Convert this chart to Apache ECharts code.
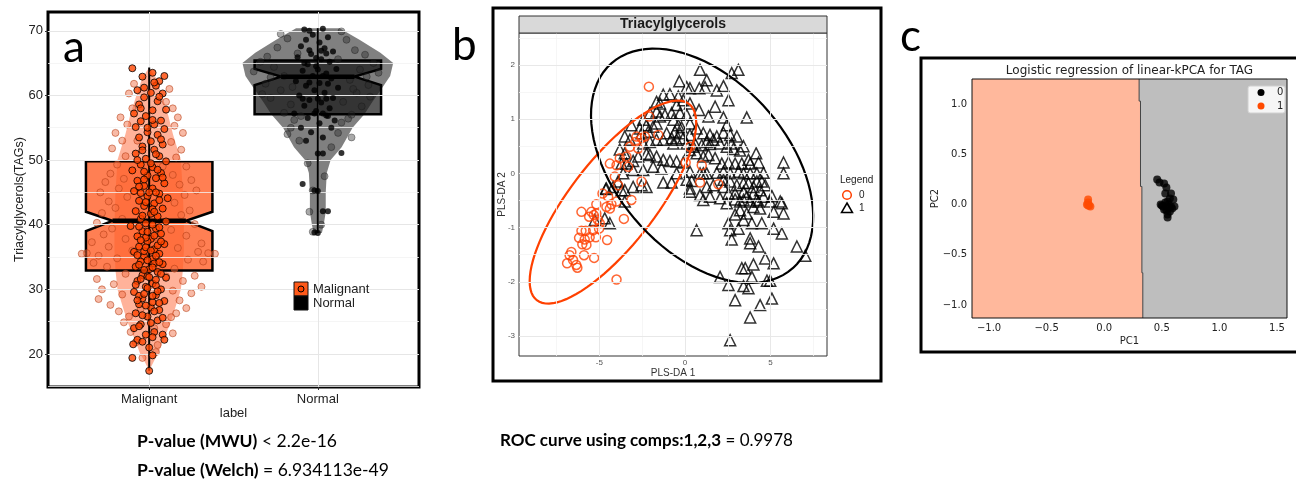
<!DOCTYPE html>
<html>
<head>
<meta charset="utf-8">
<script src="https://cdn.jsdelivr.net/npm/echarts@6/dist/echarts.min.js"></script>
<style>
html, body { margin: 0; padding: 0; background: #fff; }
#chart { width: 1296px; height: 485px; }
</style>
</head>
<body>
<div id="chart"></div>
<script>
// ---- panel a : violin + notched box + jitter ----
var boxCats = ['Malignant', 'Normal'];
// [x, min, q1, notchLow, median, notchHigh, q3, max]
var boxStats = [
  [1, 17.4, 32.9, 39.0, 40.6, 42.0, 49.8, 64.3],
  [2, 38.7, 57.1, 61.6, 62.9, 64.1, 65.4, 70.4]
];
// [y, half width in x units]
var violinMalignant = [[17.4, 0], [19, 0.03], [20, 0.053], [22, 0.082], [25, 0.129], [28, 0.165], [30, 0.188],
  [33, 0.2], [36, 0.206], [40, 0.206], [45, 0.2], [50, 0.188], [54, 0.141], [57, 0.112], [60, 0.076],
  [62.7, 0.041], [64.3, 0]];
var violinNormal = [[38.7, 0.024], [40, 0.035], [42, 0.047], [45, 0.047], [48, 0.053], [50, 0.076], [52, 0.141],
  [55, 0.206], [57.1, 0.276], [59, 0.324], [61.4, 0.388], [63, 0.429], [65, 0.447], [66.6, 0.371],
  [68.6, 0.247], [70.4, 0.129]];

var malignantDark = [[0.90,64.2],[1.09,63.0],[1.02,63.5],[0.96,62.9],[1.06,62.2],[1.04,61.5],[0.93,60.8],[1.01,60.4],
  [1.08,60.3],[0.97,59.7],[1.05,59.1],[0.94,58.6],[1.10,57.8],[1.02,57.7],[0.91,57.2],[0.98,56.8],[1.07,56.1],
  [0.95,56.0],[1.03,55.5],[0.92,55.1],[1.09,54.8],[0.99,54.3],[1.05,53.9],[0.94,53.5],[1.01,52.9],[1.08,52.4],
  [0.96,52.1],[1.03,51.6],[0.92,51.0],[1.06,50.6],[0.98,50.2],[1.10,49.8],[0.95,49.3],[1.02,48.9],[0.90,48.4],
  [1.07,48.0],[0.99,47.6],[1.04,47.2],[0.93,46.8],[1.09,46.4],[0.97,46.0],[1.02,45.6],[0.91,45.2],[1.06,44.8],
  [0.99,44.4],[1.11,44.1],[0.94,43.7],[1.03,43.3],[0.97,42.9],[1.08,42.5],[0.92,42.1],[1.01,41.7],[1.05,41.3],
  [0.95,40.9],[1.10,40.5],[0.98,40.2],[0.89,39.8],[1.04,39.4],[0.96,39.0],[1.07,38.6],[0.93,38.2],[1.01,37.8],
  [0.99,37.4],[1.09,37.0],[0.94,36.6],[1.03,36.2],[0.91,35.8],[1.06,35.5],[0.97,35.1],[1.02,34.7],[0.95,34.3],
  [1.08,33.9],[0.92,33.5],[1.00,33.1],[1.05,32.7],[0.96,32.2],[1.10,31.8],[0.93,31.3],[1.02,30.9],[0.98,30.4],
  [1.07,30.0],[0.91,29.6],[1.04,29.1],[0.96,28.6],[1.09,28.2],[0.94,27.7],[1.01,27.2],[1.06,26.8],[0.92,26.3],
  [0.99,25.8],[1.05,25.2],[0.95,24.6],[0.91,24.0],[1.03,23.4],[1.08,23.0],[0.93,22.2],[1.09,22.2],[0.905,21.5],
  [1.00,21.0],[0.90,19.4],[1.00,17.4],[0.97,47.0],[1.04,45.0],[0.95,44.9],[1.02,42.4],[0.98,38.0],[1.05,36.8],
  [0.97,35.9],[1.03,34.0],[0.99,32.0],[1.04,30.6],[0.94,29.0],[1.02,28.0],
  [1.03,62.0],[0.97,61.2],[1.06,59.8],[0.95,58.0],[1.02,56.2],[0.99,55.0],[1.07,53.2],[0.96,51.5],[1.04,50.9],
  [0.93,50.0],[1.01,49.5],[1.05,48.5],[0.97,48.2],[1.08,47.3],[0.94,45.9],[1.00,45.0],[1.06,43.8],[0.98,43.5],
  [1.03,42.0],[0.96,41.4],[1.02,40.0],[0.94,39.7],[1.06,39.6],[0.99,38.9],[1.03,38.3],[0.95,37.6],[1.07,37.4],
  [0.98,36.5],[1.01,36.0],[0.93,35.3],[1.04,35.2],[0.99,34.5],[1.06,34.2],[0.94,33.8],[1.02,33.4],[0.97,33.0],
  [1.07,32.4],[1.00,31.9],[0.95,31.6],[1.04,31.5],[0.92,30.7],[0.99,30.2],[1.05,29.7],[0.97,29.3],[1.02,29.0],
  [0.93,28.3],[1.06,27.9],[0.98,27.5],[1.03,26.6],[0.96,26.0],[1.08,25.6],[1.01,24.8],[0.94,24.3],[0.98,23.0],
  [1.02,22.6],[0.96,21.9],[1.02,19.8]];
var malignantLight = [[0.83,56.6],[1.17,56.6],[0.87,55.5],[1.15,55.3],[0.80,54.2],[1.20,54.2],[0.84,53.0],[1.13,52.8],
  [0.78,51.8],[1.19,51.6],[0.86,50.6],[1.16,50.4],[0.81,49.3],[1.22,49.0],[0.77,47.9],[1.14,47.7],[0.85,47.1],
  [1.25,46.9],[0.74,46.6],[1.18,46.2],[0.82,45.6],[1.28,45.3],[0.71,45.0],[1.21,44.6],[0.87,44.3],[0.76,43.6],
  [1.15,43.4],[0.80,42.6],[1.24,42.2],[0.72,41.8],[1.19,41.5],[0.84,40.9],[0.69,40.3],[1.27,40.1],[0.78,39.4],
  [1.13,39.2],[0.73,38.5],[1.22,38.3],[0.86,37.8],[0.66,37.3],[1.31,37.1],[0.76,36.6],[1.17,36.4],[0.63,35.6],
  [1.29,35.8],[0.70,35.2],[1.35,35.6],[0.81,34.8],[1.23,34.6],[0.67,34.1],[1.32,34.3],[0.75,33.5],[1.15,33.2],
  [0.86,32.4],[1.27,32.1],[0.69,31.6],[1.20,31.3],[0.79,30.8],[1.31,30.4],[0.72,30.0],[1.14,29.8],[0.84,29.2],
  [1.25,29.4],[0.70,28.5],[1.18,28.3],[0.77,27.6],[1.22,27.1],[0.82,26.6],[1.16,26.3],[0.88,25.8],[1.13,25.7],
  [0.85,24.9],[1.10,24.6],[0.89,23.4],[1.14,23.2],[0.92,21.8],[1.05,21.4],[0.96,19.4],[1.04,20.3],[0.91,61.8],
  [1.12,61.0],[0.88,60.3],[1.10,59.0],[0.90,58.0],[1.14,58.0],[0.93,53.0],[1.08,49.0],[0.96,44.0],[1.04,38.0],
  [0.90,36.0],[1.10,32.0],[0.95,27.0],[1.03,24.0],[0.60,35.5],[1.39,35.5]];
var normalDark = [[1.92,70.2],[1.95,70.0],[2.03,70.3],[1.97,69.4],[2.06,69.0],[1.93,68.6],[2.01,68.2],[1.90,67.6],
  [2.04,67.3],[2.09,66.8],[1.96,66.4],[1.88,65.9],[2.02,65.6],[2.07,65.2],[1.94,64.8],[1.99,64.5],[2.11,64.1],
  [1.91,63.8],[2.05,63.4],[1.97,63.0],[2.08,62.6],[1.87,62.2],[2.01,61.9],[1.93,61.5],[2.12,61.2],[1.98,60.8],
  [2.04,60.4],[1.89,60.0],[2.09,59.6],[1.95,59.3],[2.02,58.9],[1.92,58.4],[2.07,58.0],[1.99,57.6],[1.86,57.2],
  [2.05,56.9],[1.94,56.5],[2.10,56.1],[2.01,55.7],[1.90,55.0],[2.08,55.0],[1.96,54.3],[2.03,53.5],[1.93,53.0],
  [2.00,51.0],[2.03,51.0],[2.14,51.1],[1.91,46.3],[2.00,45.2],[1.98,45.3],[2.03,42.1],[2.06,42.1],[1.98,38.8],
  [2.00,38.7],[1.95,67.0],[2.02,66.9],[2.05,66.5],[1.99,65.8],[1.92,65.0],[2.00,64.0],[2.03,63.0],[1.95,62.0],
  [2.06,61.8],[1.91,59.5],[2.00,59.5],[2.05,59.5],[1.98,57.2],[2.03,57.2],[2.06,56.8]];
var normalLight = [[1.82,68.8],[2.17,68.6],[1.76,67.4],[2.22,67.0],[1.70,66.0],[2.28,66.3],[1.66,65.2],[2.33,65.0],
  [1.74,64.4],[2.25,64.0],[1.62,63.7],[2.36,63.5],[1.80,63.0],[2.19,62.4],[1.69,61.8],[2.30,61.6],[1.78,60.8],
  [2.23,60.4],[1.72,59.6],[2.15,59.0],[1.84,58.6],[2.26,58.3],[1.80,57.3],[2.20,57.0],[1.86,56.2],[2.14,55.8],
  [1.84,55.0],[2.12,54.2],[1.89,53.0],[2.08,52.0],[1.94,49.5],[2.04,47.5],[1.97,45.3],[1.95,42.0],[2.02,40.0],
  [1.97,38.9],[1.78,69.5],[2.14,69.9],[1.88,66.5],[2.12,65.6],[1.72,62.8],[2.29,62.9],[1.85,61.3],[2.21,61.0],
  [1.67,60.2],[2.31,59.8],[1.90,56.8],[2.18,56.4],[1.82,54.0],[2.20,53.5]];
var aTicksY = [20, 30, 40, 50, 60, 70];
var aMinorY = [15, 25, 35, 45, 55, 65];

// ---- panel b : PLS-DA scores ----
var plsClass0 = [[-2.11,1.60],[-2.09,1.05],[-2.83,0.68],[-2.54,0.65],[-2.34,0.68],[-1.56,0.71],[-3.22,0.49],
  [-2.73,0.46],[-3.81,0.28],[-3.42,0.31],[-4.39,0.18],[-4.00,0.15],[-3.32,0.12],[-4.10,-0.06],[-2.54,-0.15],
  [-3.91,-0.22],[-4.82,-0.37],[-4.49,-0.43],[-4.00,-0.52],[-4.30,-0.57],[-4.59,-0.62],[-4.39,-0.65],
  [-5.18,-0.57],[-3.13,-0.49],[-6.05,-0.71],[-5.47,-0.71],[-5.33,-0.77],[-5.60,-0.80],[-5.18,-0.74],
  [-3.57,-0.84],[-4.98,-0.92],[-6.05,-1.06],[-5.80,-1.06],[-5.37,-1.05],[-5.02,-1.02],[-6.19,-1.19],
  [-5.86,-1.22],[-5.57,-1.18],[-5.21,-1.18],[-4.55,-1.23],[-6.00,-1.31],[-5.76,-1.32],[-6.64,-1.45],
  [-6.74,-1.51],[-5.90,-1.51],[-6.89,-1.66],[-6.54,-1.60],[-6.35,-1.69],[-6.29,-1.74],[-5.31,-1.56],
  [-4.00,-1.96],[0.98,0.15],[0.88,-0.17],[1.95,-0.20],[0.04,0.20],[0.29,0.49],[-2.9,0.58],[-5.1,-0.85]];
var plsClass1 = [[0.88,1.91],[2.73,1.85],[3.12,1.91],[1.27,1.72],[-0.33,1.70],[0.10,1.59],[0.29,1.57],[0.84,1.57],
  [1.17,1.59],[1.86,1.53],[2.25,1.61],[2.54,1.35],[3.61,1.03],[-1.27,1.45],[-0.88,1.46],[-1.66,1.32],[-1.46,1.29],
  [-0.39,1.42],[-0.10,1.35],[-0.49,1.26],[0.29,1.29],[0.82,1.17],[1.76,1.23],[1.37,1.05],[2.25,1.03],[2.44,0.89],
  [-2.05,1.11],[-1.66,1.14],[-1.46,1.05],[-1.17,1.08],[-0.78,1.11],[-0.29,1.11],[0.10,1.08],[-2.44,0.99],
  [-2.25,0.89],[-1.86,0.86],[-1.66,0.92],[-0.68,0.99],[-0.39,0.89],[-0.20,0.85],[0.29,0.92],[0.68,0.83],
  [1.07,0.74],[1.46,0.71],[1.86,0.68],[2.25,0.75],[2.64,0.71],[3.03,0.68],[2.73,0.55],[3.42,0.50],[-3.13,0.89],
  [-2.64,0.83],[-2.54,0.74],[-2.15,0.77],[-3.52,0.68],[-3.22,0.62],[-2.44,0.55],[-2.05,0.58],[-1.66,0.62],
  [-1.27,0.62],[-0.78,0.65],[-0.49,0.62],[-0.10,0.65],[0.29,0.71],[0.59,0.55],[0.98,0.52],[1.27,0.58],[1.46,0.54],
  [1.66,0.62],[2.05,0.55],[2.44,0.49],[2.83,0.45],[3.22,0.42],[3.71,0.25],[4.16,0.37],[-3.81,0.44],[-3.52,0.37],
  [-3.71,0.18],[-3.42,0.18],[-3.03,0.23],[-2.73,0.31],[-2.25,0.36],[-2.05,0.34],[-1.66,0.31],[-1.27,0.25],
  [-0.88,0.23],[-0.10,0.20],[0.29,0.43],[0.68,0.37],[1.07,0.31],[1.37,0.34],[1.76,0.28],[2.15,0.18],[2.54,0.20],
  [2.93,0.18],[3.32,0.18],[3.81,0.18],[4.30,0.20],[5.76,0.20],[5.76,0.00],[4.59,0.01],[4.20,0.00],[3.81,0.00],
  [3.42,0.00],[3.13,0.03],[2.64,0.00],[2.25,0.03],[1.86,0.01],[1.27,0.00],[0.88,0.00],[0.29,0.03],[0.10,-0.12],
  [0.39,-0.14],[-0.49,0.00],[-1.37,0.09],[-1.86,0.12],[-2.44,0.06],[-3.03,0.06],[-3.61,0.00],[-3.91,-0.15],
  [-4.20,-0.25],[-4.59,-0.28],[-3.71,-0.31],[-3.52,-0.31],[-3.03,-0.25],[-2.54,-0.22],[-2.25,-0.25],[-1.27,-0.17],
  [-0.78,-0.17],[1.27,-0.25],[1.66,-0.22],[2.25,-0.25],[2.64,-0.15],[3.03,-0.22],[3.42,-0.18],[3.71,-0.18],
  [4.20,-0.15],[4.49,-0.15],[4.69,-0.22],[0.29,-0.34],[0.88,-0.40],[1.46,-0.43],[2.05,-0.46],[2.54,-0.37],
  [2.93,-0.37],[3.42,-0.34],[3.61,-0.43],[4.00,-0.37],[4.39,-0.31],[4.59,-0.43],[5.08,-0.42],[5.57,-0.52],
  [5.66,-0.55],[4.30,-0.52],[3.81,-0.52],[3.22,-0.52],[2.93,-0.48],[2.44,-0.55],[1.07,-0.49],[4.98,-0.52],
  [5.76,-0.74],[5.18,-0.71],[4.39,-0.65],[4.00,-0.62],[3.61,-0.74],[3.22,-0.68],[2.93,-0.76],[3.42,-0.86],
  [3.91,-0.92],[4.49,-0.92],[5.18,-1.02],[5.66,-1.11],[2.54,-0.92],[2.64,-1.05],[3.13,-1.02],[0.68,-1.05],
  [2.73,-1.22],[3.81,-1.20],[3.81,-1.29],[4.30,-1.35],[6.54,-1.35],[7.03,-1.52],[4.69,-1.57],[5.18,-1.66],
  [4.00,-1.68],[3.32,-1.75],[3.52,-1.75],[3.91,-1.91],[2.05,-1.91],[2.54,-2.06],[3.42,-2.08],[3.71,-2.12],
  [4.79,-1.98],[4.98,-1.98],[2.93,-2.34],[4.39,-2.43],[5.08,-2.31],[3.81,-2.66],[2.64,-3.08],[-5.27,-0.86],
  [-4.69,-0.83],[-4.39,-0.92],[-4.63,-0.29],[-3.52,-0.52],[0.29,-0.28],[-0.49,0.22],[-0.68,0.55],[-0.29,0.74],
  [-0.59,0.77],[-1.07,0.74],[0.49,0.49],[0.10,0.55],[1.07,0.00],[2.25,-0.12],[3.42,-0.49],[4.20,-0.49],[4.00,-0.25]];
// confidence ellipses: [cx, cy, ux, uy, vx, vy], outline = c + u cos t + v sin t
var plsEllipse0 = [-4.21, -0.53, 4.45, 1.81, 1.97, -0.483];
var plsEllipse1 = [1.0, 0.14, 5.30, -1.89, 3.75, 1.05];
var bTicksX = [-5, 0, 5];
var bMinorX = [-7.5, -2.5, 2.5, 7.5];
var bTicksY = [-3, -2, -1, 0, 1, 2];
var bMinorY = [-2.5, -1.5, -0.5, 0.5, 1.5, 2.5];

// ---- panel c : logistic regression on kPCA ----
var kpcaClass0 = [[0.46,0.25],[0.48,0.22],[0.52,0.21],[0.54,0.17],[0.53,0.11],[0.58,0.11],[0.49,0.00],[0.51,-0.02],
  [0.53,0.02],[0.55,0.03],[0.57,0.06],[0.60,0.05],[0.52,-0.05],[0.54,-0.06],[0.56,-0.03],[0.58,-0.02],
  [0.61,-0.02],[0.55,-0.10],[0.55,-0.13],[0.57,-0.07],[0.50,-0.01],[0.59,-0.04],[0.56,0.00]];
var kpcaClass1 = [[-0.14,0.05],[-0.14,0.02],[-0.13,-0.01],[-0.15,0.00],[-0.12,-0.02],[-0.14,-0.01]];
var cBoundary = [[0.303,1.25],[0.303,1.03],[0.315,1.03],[0.315,0.18],[0.327,0.18],[0.327,-0.68],[0.335,-0.68],[0.335,-1.13]];
var cTicksX = [-1.0, -0.5, 0.0, 0.5, 1.0, 1.5];
var cTicksY = [-1.0, -0.5, 0.0, 0.5, 1.0];
var cRange = { xMin: -1.148, xMax: 1.587, yMin: -1.13, yMax: 1.25 };

var A = { left: 48, top: 12, width: 371, height: 375 };
var B = { left: 519, top: 33, width: 308, height: 323 };
var C = { left: 972, top: 79, width: 315, height: 239 };

var chart = echarts.init(document.getElementById('chart'), null, { renderer: 'canvas' });

function gridLines(i, xs, ys, color, width) {
  var data = xs.map(function (v) { return { xAxis: v }; })
    .concat(ys.map(function (v) { return { yAxis: v }; }));
  return {
    type: 'line', xAxisIndex: i, yAxisIndex: i, data: [], silent: true, z: 1,
    markLine: {
      silent: true, symbol: ['none', 'none'], label: { show: false }, animation: false,
      lineStyle: { color: color, width: width, type: 'solid' }, data: data
    }
  };
}

var violins = [violinMalignant, violinNormal];
var violinFill = ['rgba(255,85,30,0.45)', 'rgba(60,60,60,0.65)'];
var boxFill = ['rgba(255,95,40,0.8)', 'rgba(20,20,20,0.7)'];
var boxHalf = 0.375;
var notchRatio = 0.58;

function renderViolin(params, api) {
  var x = boxStats[params.dataIndex][0];
  var prof = violins[params.dataIndex];
  var right = prof.map(function (p) { return api.coord([x + p[1], p[0]]); });
  var left = prof.slice().reverse().map(function (p) { return api.coord([x - p[1], p[0]]); });
  return { type: 'polygon', shape: { points: right.concat(left) }, style: { fill: violinFill[params.dataIndex] } };
}

function renderBox(params, api) {
  var s = boxStats[params.dataIndex];
  var x = s[0], hw = boxHalf, nw = boxHalf * notchRatio;
  var pts = [[x - hw, s[6]], [x + hw, s[6]], [x + hw, s[5]], [x + nw, s[4]], [x + hw, s[3]], [x + hw, s[2]],
    [x - hw, s[2]], [x - hw, s[3]], [x - nw, s[4]], [x - hw, s[5]]].map(function (p) { return api.coord(p); });
  return { type: 'polygon', shape: { points: pts },
    style: { fill: boxFill[params.dataIndex], stroke: '#000', lineWidth: 2.5 } };
}

function renderWhisker(params, api) {
  var s = boxStats[params.dataIndex];
  var lo = api.coord([s[0], s[1]]), hi = api.coord([s[0], s[7]]);
  var ml = api.coord([s[0] - boxHalf * notchRatio, s[4]]), mr = api.coord([s[0] + boxHalf * notchRatio, s[4]]);
  return { type: 'group', children: [
    { type: 'line', shape: { x1: lo[0], y1: lo[1], x2: hi[0], y2: hi[1] }, style: { stroke: '#000', lineWidth: 2 } },
    { type: 'line', shape: { x1: ml[0], y1: ml[1], x2: mr[0], y2: mr[1] }, style: { stroke: '#000', lineWidth: 4.5 } }
  ] };
}

var ellipses = [plsEllipse0, plsEllipse1];
var ellipseColor = ['#ff4000', '#000'];
function renderEllipse(params, api) {
  var e = ellipses[params.dataIndex];
  var pts = [];
  for (var k = 0; k <= 90; k += 1) {
    var t = k / 90 * 2 * Math.PI;
    pts.push(api.coord([e[0] + e[2] * Math.cos(t) + e[4] * Math.sin(t), e[1] + e[3] * Math.cos(t) + e[5] * Math.sin(t)]));
  }
  return { type: 'polyline', shape: { points: pts }, style: { fill: null, stroke: ellipseColor[params.dataIndex], lineWidth: 2.2 } };
}

function renderRegion(params, api) {
  var poly;
  if (params.dataIndex === 0) {
    poly = [[cRange.xMin, cRange.yMax]].concat(cBoundary, [[cRange.xMin, cRange.yMin]]);
  } else {
    poly = cBoundary.concat([[cRange.xMax, cRange.yMin], [cRange.xMax, cRange.yMax]]);
  }
  return { type: 'polygon', shape: { points: poly.map(function (p) { return api.coord(p); }) },
    style: { fill: params.dataIndex === 0 ? '#ffb89c' : '#bebebe' } };
}
function renderBoundary(params, api) {
  return { type: 'polyline', shape: { points: cBoundary.map(function (p) { return api.coord(p); }) },
    style: { fill: null, stroke: '#444', lineWidth: 1 } };
}

var fa = 'Liberation Sans, Arial, sans-serif';
var fc = 'DejaVu Sans, sans-serif';
function minusFmt(v) { return (v < 0 ? '\u2212' : '') + Math.abs(v).toFixed(1); }

chart.setOption({
  animation: false,
  grid: [
    { left: A.left, top: A.top, width: A.width, height: A.height, show: true, borderColor: '#000', borderWidth: 3 },
    { left: B.left, top: B.top, width: B.width, height: B.height, show: true, borderColor: '#333', borderWidth: 1 },
    { left: C.left, top: C.top, width: C.width, height: C.height }
  ],
  xAxis: [
    { type: 'value', gridIndex: 0, min: 0.4, max: 2.6, axisLine: { show: false },
      axisTick: { show: true, customValues: [1, 2], length: 3, lineStyle: { color: '#333' } },
      axisLabel: { customValues: [1, 2], formatter: function (v) { return boxCats[Math.round(v) - 1]; },
        color: '#222', fontSize: 13, fontFamily: fa, margin: 6 },
      splitLine: { show: false }, name: 'label', nameLocation: 'middle', nameGap: 20, nameMoveOverlap: false,
      nameTextStyle: { color: '#222', fontSize: 13, fontFamily: fa } },
    { type: 'value', gridIndex: 1, min: -9.7, max: 8.3, axisLine: { show: false },
      axisTick: { show: true, customValues: bTicksX, length: 3, lineStyle: { color: '#333' } },
      axisLabel: { customValues: bTicksX, color: '#555', fontSize: 8, fontFamily: fa, margin: 3 },
      splitLine: { show: false }, name: 'PLS-DA 1', nameLocation: 'middle', nameGap: 12, nameMoveOverlap: false,
      nameTextStyle: { color: '#333', fontSize: 10, fontFamily: fa } },
    { type: 'value', gridIndex: 2, min: cRange.xMin, max: cRange.xMax, axisLine: { show: false },
      axisTick: { show: true, customValues: cTicksX, length: 3.5, lineStyle: { color: '#000' } },
      axisLabel: { customValues: cTicksX, formatter: minusFmt, color: '#222', fontSize: 10, fontFamily: fc, margin: 5 },
      splitLine: { show: false }, name: 'PC1', nameLocation: 'middle', nameGap: 18, nameMoveOverlap: false,
      nameTextStyle: { color: '#222', fontSize: 10, fontFamily: fc } }
  ],
  yAxis: [
    { type: 'value', gridIndex: 0, min: 14.9, max: 72.9, axisLine: { show: false },
      axisTick: { show: true, customValues: aTicksY, length: 3, lineStyle: { color: '#333' } },
      axisLabel: { customValues: aTicksY, color: '#222', fontSize: 13, fontFamily: fa, margin: 5 },
      splitLine: { show: false }, name: 'Triacylglycerols(TAGs)', nameLocation: 'middle', nameGap: 22, nameMoveOverlap: false,
      nameTextStyle: { color: '#222', fontSize: 12.5, fontFamily: fa } },
    { type: 'value', gridIndex: 1, min: -3.37, max: 2.59, axisLine: { show: false },
      axisTick: { show: true, customValues: bTicksY, length: 3, lineStyle: { color: '#333' } },
      axisLabel: { customValues: bTicksY, color: '#555', fontSize: 8, fontFamily: fa, margin: 4 },
      splitLine: { show: false }, name: 'PLS-DA 2', nameLocation: 'middle', nameGap: 12, nameMoveOverlap: false,
      nameTextStyle: { color: '#333', fontSize: 10, fontFamily: fa } },
    { type: 'value', gridIndex: 2, min: cRange.yMin, max: cRange.yMax, axisLine: { show: false },
      axisTick: { show: true, customValues: cTicksY, length: 3.5, lineStyle: { color: '#000' } },
      axisLabel: { customValues: cTicksY, formatter: minusFmt, color: '#222', fontSize: 10, fontFamily: fc, margin: 5 },
      splitLine: { show: false }, name: 'PC2', nameLocation: 'middle', nameGap: 32, nameMoveOverlap: false,
      nameTextStyle: { color: '#222', fontSize: 10, fontFamily: fc } }
  ],
  series: [
    gridLines(0, [], aMinorY, '#f3f3f3', 0.8),
    gridLines(0, [1, 2], aTicksY, '#e6e6e6', 1),
    { type: 'custom', xAxisIndex: 0, yAxisIndex: 0, data: boxStats, renderItem: renderViolin, silent: true, z: 2 },
    { type: 'custom', xAxisIndex: 0, yAxisIndex: 0, data: boxStats, renderItem: renderBox, silent: true, z: 3 },
    { type: 'scatter', xAxisIndex: 0, yAxisIndex: 0, data: malignantLight, symbolSize: 7, silent: true, z: 4,
      itemStyle: { color: 'rgba(240,110,70,0.6)', borderColor: 'rgba(180,60,20,0.7)', borderWidth: 1 } },
    { type: 'scatter', xAxisIndex: 0, yAxisIndex: 0, data: normalLight, symbolSize: 7, silent: true, z: 4,
      itemStyle: { color: 'rgba(40,40,40,0.5)', borderColor: 'rgba(20,20,20,0.45)', borderWidth: 1 } },
    { type: 'custom', xAxisIndex: 0, yAxisIndex: 0, data: boxStats, renderItem: renderWhisker, silent: true, z: 5 },
    { type: 'scatter', xAxisIndex: 0, yAxisIndex: 0, data: malignantDark, symbolSize: 7, silent: true, z: 6,
      itemStyle: { color: '#ff4500', borderColor: '#000', borderWidth: 1 } },
    { type: 'scatter', xAxisIndex: 0, yAxisIndex: 0, data: normalDark, symbolSize: 6, silent: true, z: 6,
      itemStyle: { color: '#000' } },

    gridLines(1, bMinorX, bMinorY, '#f4f4f4', 0.8),
    gridLines(1, bTicksX, bTicksY, '#e8e8e8', 1),
    { type: 'scatter', xAxisIndex: 1, yAxisIndex: 1, data: plsClass1, symbol: 'triangle', symbolSize: 11, silent: true, z: 3,
      itemStyle: { color: 'rgba(0,0,0,0)', borderColor: '#000', borderWidth: 1.5 } },
    { type: 'scatter', xAxisIndex: 1, yAxisIndex: 1, data: plsClass0, symbol: 'circle', symbolSize: 9, silent: true, z: 3,
      itemStyle: { color: 'rgba(0,0,0,0)', borderColor: '#ff4000', borderWidth: 1.5 } },
    { type: 'custom', xAxisIndex: 1, yAxisIndex: 1, data: [plsEllipse0, plsEllipse1], renderItem: renderEllipse, silent: true, z: 4 },

    { type: 'custom', xAxisIndex: 2, yAxisIndex: 2, data: [[0, 0], [1, 0]], renderItem: renderRegion, silent: true, z: 1 },
    { type: 'custom', xAxisIndex: 2, yAxisIndex: 2, data: [[0, 0]], renderItem: renderBoundary, silent: true, z: 2 },
    { type: 'scatter', xAxisIndex: 2, yAxisIndex: 2, data: kpcaClass0, symbolSize: 8, silent: true, z: 3,
      itemStyle: { color: '#000' } },
    { type: 'scatter', xAxisIndex: 2, yAxisIndex: 2, data: kpcaClass1, symbolSize: 8, silent: true, z: 3,
      itemStyle: { color: '#ff4a00' } }
  ],
  graphic: [
    // panel letters
    { type: 'text', x: 63, y: 48, style: { text: 'a', font: '44px Lato, sans-serif', fill: '#000', verticalAlign: 'middle' } },
    { type: 'text', x: 452, y: 46, style: { text: 'b', font: '44px Lato, sans-serif', fill: '#000', verticalAlign: 'middle' } },
    { type: 'text', x: 900, y: 37, style: { text: 'c', font: '44px Lato, sans-serif', fill: '#000', verticalAlign: 'middle' } },
    // panel a legend
    { type: 'rect', shape: { x: 294, y: 282, width: 14, height: 14 }, style: { fill: '#ff5a1a', stroke: '#111', lineWidth: 1 }, z: 10 },
    { type: 'circle', shape: { cx: 301, cy: 289, r: 3 }, style: { fill: '#ff4500', stroke: '#000', lineWidth: 1 }, z: 11 },
    { type: 'rect', shape: { x: 294, y: 296, width: 14, height: 14 }, style: { fill: '#000', stroke: '#111', lineWidth: 1 }, z: 10 },
    { type: 'text', x: 313, y: 289, style: { text: 'Malignant', font: '13px ' + fa, fill: '#222', verticalAlign: 'middle' }, z: 10 },
    { type: 'text', x: 313, y: 303, style: { text: 'Normal', font: '13px ' + fa, fill: '#222', verticalAlign: 'middle' }, z: 10 },
    // panel b frame, strip and legend
    { type: 'rect', shape: { x: 493, y: 8, width: 388, height: 373 }, style: { fill: null, stroke: '#000', lineWidth: 3 }, z: 10 },
    { type: 'rect', shape: { x: B.left, y: 16, width: B.width, height: B.top - 16 }, style: { fill: '#d9d9d9', stroke: '#333', lineWidth: 1 }, z: 10 },
    { type: 'text', x: B.left + B.width / 2, y: 24.5, style: { text: 'Triacylglycerols', font: 'bold 14px ' + fa, fill: '#1a1a1a', align: 'center', verticalAlign: 'middle' }, z: 11 },
    { type: 'text', x: 840, y: 180, style: { text: 'Legend', font: '10px ' + fa, fill: '#222', verticalAlign: 'middle' }, z: 10 },
    { type: 'circle', shape: { cx: 847, cy: 195, r: 4.3 }, style: { fill: null, stroke: '#ff4000', lineWidth: 1.5 }, z: 10 },
    { type: 'polygon', shape: { points: [[847, 203], [852.5, 212.5], [841.5, 212.5]] }, style: { fill: null, stroke: '#000', lineWidth: 1.5 }, z: 10 },
    { type: 'text', x: 859, y: 195, style: { text: '0', font: '10px ' + fa, fill: '#222', verticalAlign: 'middle' }, z: 10 },
    { type: 'text', x: 859, y: 208, style: { text: '1', font: '10px ' + fa, fill: '#222', verticalAlign: 'middle' }, z: 10 },
    // panel c frame, spines, title and legend
    { type: 'rect', shape: { x: 921, y: 58, width: 380, height: 294 }, style: { fill: null, stroke: '#000', lineWidth: 3 }, z: 10 },
    { type: 'rect', shape: { x: C.left, y: C.top, width: C.width, height: C.height }, style: { fill: null, stroke: '#111', lineWidth: 1 }, z: 10 },
    { type: 'text', x: C.left + C.width / 2, y: 71, style: { text: 'Logistic regression of linear-kPCA for TAG', font: '12px ' + fc, fill: '#222', align: 'center', verticalAlign: 'middle' }, z: 10 },
    { type: 'rect', shape: { x: 1248, y: 86, width: 37, height: 27, r: 2 }, style: { fill: 'rgba(255,255,255,0.85)', stroke: '#d0d0d0', lineWidth: 1 }, z: 10 },
    { type: 'circle', shape: { cx: 1261, cy: 92.5, r: 3.5 }, style: { fill: '#000' }, z: 11 },
    { type: 'circle', shape: { cx: 1261, cy: 106, r: 3.5 }, style: { fill: '#ff4a00' }, z: 11 },
    { type: 'text', x: 1277, y: 92.5, style: { text: '0', font: '10px ' + fc, fill: '#222', verticalAlign: 'middle' }, z: 11 },
    { type: 'text', x: 1277, y: 106, style: { text: '1', font: '10px ' + fc, fill: '#222', verticalAlign: 'middle' }, z: 11 },
    // statistics under the panels
    { type: 'text', x: 137, y: 441, style: { text: '{b|P-value (MWU)} < 2.2e-16', font: '17.5px Lato, sans-serif', fill: '#000', verticalAlign: 'middle',
      rich: { b: { fontWeight: 'bold', fontSize: 17.5, fontFamily: 'Lato, sans-serif', fill: '#000' } } } },
    { type: 'text', x: 137, y: 470, style: { text: '{b|P-value (Welch)} = 6.934113e-49', font: '17.5px Lato, sans-serif', fill: '#000', verticalAlign: 'middle',
      rich: { b: { fontWeight: 'bold', fontSize: 17.5, fontFamily: 'Lato, sans-serif', fill: '#000' } } } },
    { type: 'text', x: 500, y: 441, style: { text: '{b|ROC curve using comps:1,2,3} = 0.9978', font: '17px Lato, sans-serif', fill: '#000', verticalAlign: 'middle',
      rich: { b: { fontWeight: 'bold', fontSize: 17, fontFamily: 'Lato, sans-serif', fill: '#000' } } } }
  ]
});
</script>
</body>
</html>
